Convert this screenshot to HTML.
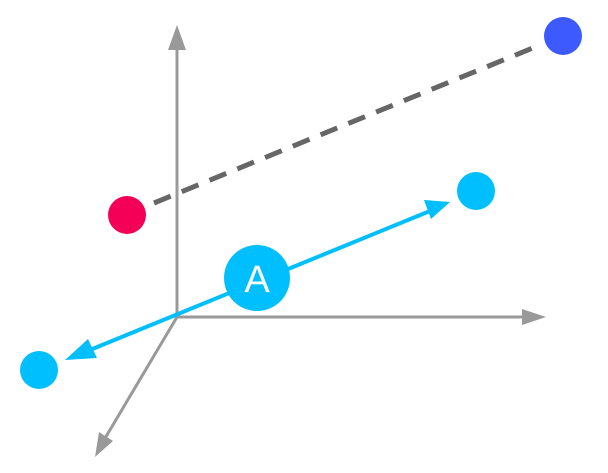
<!DOCTYPE html>
<html><head><style>html,body{margin:0;padding:0;background:#fff}</style></head>
<body>
<svg width="608" height="468" viewBox="0 0 608 468" xmlns="http://www.w3.org/2000/svg">
<g stroke="#999" stroke-width="3" fill="none">
<line x1="177" y1="317" x2="177" y2="48"/>
<line x1="177" y1="317" x2="525" y2="317"/>
<line x1="177" y1="317" x2="104" y2="440"/>
</g>
<g fill="#999">
<polygon points="177,25 168,50 186,50"/>
<polygon points="546,317 522,309 522,325"/>
<polygon points="95,457 99,432 113,441"/>
</g>
<line x1="154" y1="203" x2="540" y2="45" stroke="#666" stroke-width="5" stroke-dasharray="18,12"/>
<line x1="85" y1="352" x2="430" y2="211" stroke="#00bfff" stroke-width="4"/>
<polygon points="65,360 88,339 97,358" fill="#00bfff"/>
<polygon points="450,202 424,200 431,219" fill="#00bfff"/>
<circle cx="127" cy="215" r="19" fill="#f50057"/>
<circle cx="563" cy="36" r="19" fill="#3d5afe"/>
<circle cx="476" cy="191" r="19" fill="#00bfff"/>
<circle cx="39" cy="370" r="19" fill="#00bfff"/>
<circle cx="257" cy="278" r="33" fill="#00bfff"/>
<text x="257" y="292" text-anchor="middle" font-family="Liberation Sans, sans-serif" font-size="38" fill="#fff">A</text>
</svg>
</body></html>
